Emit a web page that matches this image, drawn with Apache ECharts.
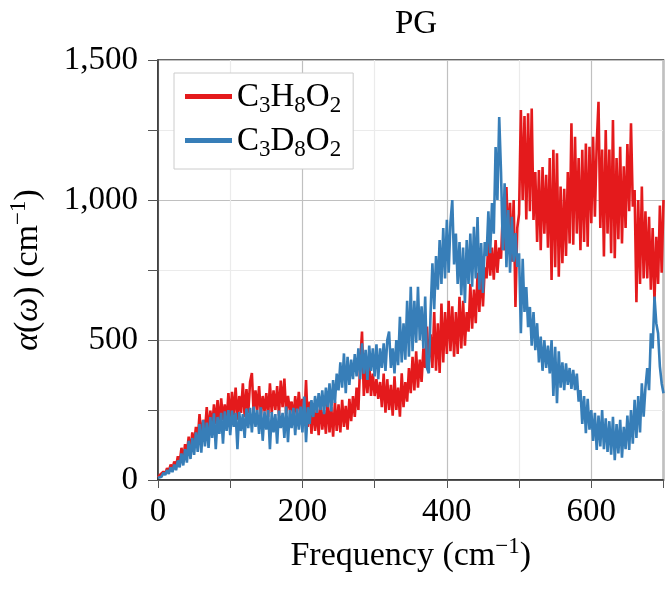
<!DOCTYPE html>
<html>
<head>
<meta charset="utf-8">
<title>PG</title>
<script src="https://cdn.jsdelivr.net/npm/echarts@6/dist/echarts.min.js"></script>
<style>
    html, body { margin: 0; padding: 0; background: #fff; }
    #chart { width: 665px; height: 589px; }
</style>
</head>
<body>
<div id="chart"></div>
<script>
// frequency grid (cm^-1), one value every 2.5 cm^-1
var freq = [];
for (var k = 0; k <= 280; k++) freq.push(k * 2.5);

// C3H8O2 (10 values per 25 cm^-1)
var alphaH = [
    10, 18, 14, 30, 22, 42, 30, 55, 40, 66,
    48, 85, 60, 115, 72, 128, 95, 155, 100, 170,
    125, 190, 140, 235, 150, 215, 170, 260, 165, 248,
    185, 270, 200, 285, 190, 292, 215, 270, 205, 310,
    220, 315, 230, 330, 215, 300, 240, 345, 225, 325,
    240, 350, 382, 235, 320, 250, 335, 230, 300, 245,
    310, 225, 345, 240, 320, 250, 335, 230, 355, 260,
    362, 235, 300, 250, 280, 215, 300, 230, 315, 240,
    290, 200, 357, 190, 280, 165, 270, 175, 255, 160,
    285, 180, 250, 165, 290, 170, 260, 155, 280, 175,
    270, 170, 286, 190, 265, 180, 290, 210, 300, 225,
    330, 250, 420, 530, 300, 400, 310, 420, 300, 380,
    300, 360, 290, 350, 260, 380, 240, 360, 250, 340,
    230, 370, 250, 330, 226, 381, 260, 350, 280, 400,
    310, 440, 320, 460, 330, 430, 350, 470, 400, 548,
    420, 520, 400, 600, 390, 560, 382, 630, 420, 600,
    450, 640, 460, 620, 440, 600, 450, 654, 470, 640,
    480, 600, 530, 700, 540, 680, 560, 740, 600, 761,
    620, 760, 720, 850, 730, 830, 715, 857, 740, 830,
    790, 960, 820, 1046, 850, 990, 780, 1000, 618, 900,
    950, 1321, 1000, 1300, 930, 1310, 960, 1327, 929, 1100,
    850, 1107, 821, 1118, 880, 1090, 830, 1150, 714, 1179,
    760, 1167, 726, 1048, 774, 1040, 800, 1100, 845, 1274,
    840, 1226, 880, 1150, 821, 1179, 850, 1202, 833, 1190,
    917, 1226, 940, 1200, 1351, 900, 1180, 798, 1250, 880,
    1180, 810, 1286, 792, 1150, 860, 1190, 845, 1120, 900,
    1200, 960, 1274, 976, 1036, 635, 1000, 700, 1048, 720,
    960, 720, 940, 680, 900, 635, 869, 700, 980, 740,
    1000
];

// C3D8O2 (10 values per 25 cm^-1)
var alphaD = [
    8, 15, 12, 26, 18, 35, 22, 45, 28, 55,
    35, 70, 45, 95, 52, 110, 62, 140, 75, 150,
    90, 170, 100, 200, 98, 214, 120, 205, 115, 225,
    150, 238, 110, 225, 165, 240, 130, 245, 175, 250,
    160, 248, 190, 240, 110, 243, 175, 235, 150, 255,
    185, 258, 170, 262, 190, 250, 165, 260, 140, 245,
    180, 250, 110, 243, 170, 235, 130, 248, 185, 240,
    150, 262, 135, 250, 185, 258, 160, 255, 180, 262,
    170, 298, 135, 260, 200, 285, 225, 300, 240, 310,
    250, 320, 235, 330, 260, 345, 245, 357, 275, 380,
    320, 420, 330, 452, 310, 440, 340, 430, 360, 450,
    370, 470, 360, 488, 380, 465, 357, 480, 390, 470,
    370, 485, 360, 470, 400, 488, 390, 500, 530, 400,
    470, 381, 500, 410, 583, 420, 560, 430, 640, 440,
    690, 460, 640, 490, 690, 500, 620, 470, 655, 400,
    381, 600, 774, 610, 800, 680, 857, 700, 900, 720,
    929, 740, 920, 1000, 770, 880, 700, 850, 660, 830,
    632, 857, 700, 880, 690, 904, 720, 939, 680, 846,
    668, 850, 800, 960, 810, 989, 880, 1189, 1000, 1296,
    1100, 821, 1060, 760, 964, 740, 940, 780, 882, 761,
    810, 524, 790, 600, 689, 546, 618, 480, 600, 464,
    560, 420, 512, 390, 500, 400, 480, 381, 500, 300,
    476, 274, 460, 330, 420, 321, 417, 340, 400, 325,
    393, 321, 380, 280, 321, 200, 300, 167, 290, 180,
    250, 140, 240, 107, 230, 120, 250, 110, 220, 100,
    210, 90, 226, 71, 200, 95, 215, 80, 190, 110,
    230, 107, 250, 130, 286, 150, 300, 170, 345, 226,
    330, 400, 321, 524, 470, 655, 560, 524, 405, 345,
    310
];

var names = ['C3H8O2', 'C3D8O2'];
var colors = ['#e41a1c', '#377eb8'];
var xTicks = [0, 700, 200];
var yTicks = [0, 1500, 500];

function pairs(ys) {
    var out = [];
    for (var i = 0; i < freq.length; i++) out.push([freq[i], ys[i]]);
    return out;
}

var serif = '"Liberation Serif", "DejaVu Serif", serif';
var chart = echarts.init(document.getElementById('chart'));

chart.setOption({
    animation: false,
    color: colors,
    title: {
        text: 'PG',
        left: 411,
        top: 3,
        textAlign: 'center',
        textStyle: { fontFamily: serif, fontSize: 33, fontWeight: 'normal', color: '#000' }
    },
    legend: {
        orient: 'vertical',
        left: 174,
        top: 73,
        padding: [8, 12, 8, 11],
        itemGap: 8,
        itemWidth: 47,
        itemHeight: 5,
        icon: 'rect',
        borderColor: '#cccccc',
        borderWidth: 1,
        backgroundColor: '#fff',
        data: names,
        formatter: function (name) {
            // C3H8O2 -> subscripted digits
            return name.replace(/([A-Z])(\d)/g, '{n|$1}{s|$2}');
        },
        textStyle: {
            rich: {
                n: { fontFamily: serif, fontSize: 33, color: '#000', lineHeight: 31, verticalAlign: 'top' },
                s: { fontFamily: serif, fontSize: 23, color: '#000', lineHeight: 31, verticalAlign: 'bottom', padding: [0, 0, -5, 0] }
            }
        }
    },
    grid: {
        left: 158,
        right: 1.5,
        top: 60,
        bottom: 109,
        outerBoundsMode: 'none',
        show: true,
        borderColor: '#333',
        borderWidth: 1.5
    },
    xAxis: {
        type: 'value',
        min: xTicks[0],
        max: xTicks[1],
        interval: xTicks[2],
        name: '{a|Frequency (cm}{b|−1}{a|)}',
        nameLocation: 'middle',
        nameGap: 55,
        nameTextStyle: {
            rich: {
                a: { fontFamily: serif, fontSize: 34, color: '#000', lineHeight: 38, verticalAlign: 'bottom' },
                b: { fontFamily: serif, fontSize: 23, color: '#000', lineHeight: 38, verticalAlign: 'top' }
            }
        },
        axisLine: { show: true, lineStyle: { color: '#333', width: 1.5 } },
        axisTick: { show: true, length: 8, lineStyle: { color: '#555' } },
        minorTick: { show: true, splitNumber: 2, length: 8, lineStyle: { color: '#555' } },
        axisLabel: { fontFamily: serif, fontSize: 33, color: '#000', margin: 16, showMaxLabel: false },
        splitLine: { show: true, lineStyle: { color: '#c0c0c0', width: 1.2 } },
        minorSplitLine: { show: true, lineStyle: { color: '#ebebeb', width: 1.2 } }
    },
    yAxis: {
        type: 'value',
        min: yTicks[0],
        max: yTicks[1],
        interval: yTicks[2],
        name: '{i|α}{a|(}{i|ω}{a|) (cm}{b|−1}{a|)}',
        nameLocation: 'middle',
        nameGap: 113,
        nameTextStyle: {
            rich: {
                a: { fontFamily: serif, fontSize: 34, color: '#000', lineHeight: 38, verticalAlign: 'bottom' },
                i: { fontFamily: serif, fontSize: 34, fontStyle: 'italic', color: '#000', lineHeight: 38, verticalAlign: 'bottom' },
                b: { fontFamily: serif, fontSize: 23, color: '#000', lineHeight: 38, verticalAlign: 'top' }
            }
        },
        axisLine: { show: true, lineStyle: { color: '#333', width: 1.5 } },
        axisTick: { show: true, length: 10, lineStyle: { color: '#555' } },
        minorTick: { show: true, splitNumber: 2, length: 10, lineStyle: { color: '#555' } },
        axisLabel: {
            fontFamily: serif, fontSize: 33, color: '#000', margin: 20,
            formatter: function (v) { return v.toLocaleString('en-US'); }
        },
        splitLine: { show: true, lineStyle: { color: '#c0c0c0', width: 1.2 } },
        minorSplitLine: { show: true, lineStyle: { color: '#ebebeb', width: 1.2 } }
    },
    series: [
        {
            name: names[0],
            type: 'line',
            showSymbol: false,
            lineStyle: { width: 2.6, color: colors[0] },
            data: pairs(alphaH)
        },
        {
            name: names[1],
            type: 'line',
            showSymbol: false,
            lineStyle: { width: 2.6, color: colors[1] },
            data: pairs(alphaD)
        }
    ]
});
</script>
</body>
</html>
